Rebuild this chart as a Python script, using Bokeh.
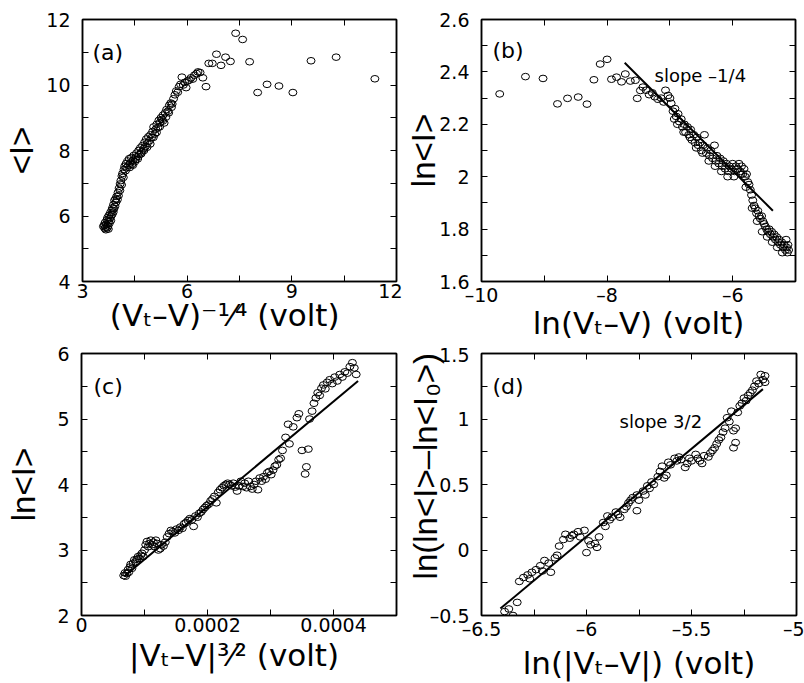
import math
from bokeh.plotting import figure
from bokeh.models import Range1d, LinearAxis, FixedTicker, CustomJSTickFormatter, Label
from bokeh.layouts import column, row
from bokeh.embed import file_html
from bokeh.resources import INLINE

# ---------------- data ----------------
# panel (a): <I> vs (Vt-V)^(-1/4)
a_x = [3.60, 3.62, 3.64, 3.65, 3.66, 3.67, 3.68, 3.70, 3.71, 3.72, 3.73, 3.74, 3.75, 3.76, 3.77, 3.78,
       3.80, 3.81, 3.82, 3.84, 3.85, 3.86, 3.88, 3.89, 3.90, 3.92, 3.93, 3.95, 3.96, 3.98, 4.00, 4.02,
       4.03, 4.05, 4.07, 4.08, 4.10, 4.12, 4.13, 4.15, 4.17, 4.19, 4.21, 4.23, 4.25, 4.27, 4.30, 4.32,
       4.34, 4.37, 4.40, 4.42, 4.45, 4.47, 4.50, 4.53, 4.55, 4.58, 4.61, 4.63, 4.66, 4.69, 4.72, 4.75,
       4.78, 4.80, 4.83, 4.86, 4.89, 4.92, 4.95, 4.98, 5.01, 5.04, 5.07, 5.10, 5.13, 5.16, 5.19, 5.22,
       5.25, 5.28, 5.31, 5.34, 5.37, 5.41, 5.45, 5.49, 5.53, 5.57, 5.61, 5.65, 5.69, 5.73, 5.77, 5.81,
       5.85, 5.89, 5.93, 5.97, 6.01, 6.06, 6.11, 6.16, 6.21, 6.27, 6.31, 6.37, 6.45, 6.54, 6.62, 6.72,
       6.84, 6.97, 7.10, 7.24, 7.39, 7.59, 7.79, 8.02, 8.29, 8.63, 9.03, 9.55, 10.27, 11.38,
       4.35, 4.44, 4.52, 4.60, 4.68, 4.76, 4.85, 4.94, 5.03, 5.12, 5.21, 5.30, 5.39, 5.47, 5.55]
a_y = [5.68, 5.72, 5.62, 5.80, 5.66, 5.58, 5.74, 5.88, 5.64, 5.95, 5.70, 5.60, 5.85, 6.02, 5.78, 5.92,
       6.10, 5.86, 6.00, 6.18, 6.05, 6.25, 6.12, 6.35, 6.22, 6.48, 6.30, 6.52, 6.42, 6.60, 6.50, 6.72,
       6.62, 6.85, 6.78, 6.98, 7.08, 6.95, 7.22, 7.30, 7.18, 7.42, 7.52, 7.38, 7.60, 7.48, 7.68, 7.55,
       7.75, 7.62, 7.78, 7.58, 7.70, 7.85, 7.66, 7.80, 7.92, 7.74, 8.00, 7.88, 8.08, 7.95, 8.15, 8.05,
       8.25, 8.12, 8.35, 8.22, 8.42, 8.30, 8.48, 8.40, 8.58, 8.72, 8.50, 8.65, 8.80, 8.70, 8.92, 8.85,
       9.00, 8.95, 9.08, 8.84, 9.15, 9.25, 9.20, 9.38, 9.45, 9.42, 9.58, 9.70, 9.82, 9.78, 9.95, 10.02,
       10.24, 10.00, 10.08, 9.92, 10.12, 10.15, 10.22, 10.18, 10.30, 10.35, 10.40, 10.38, 10.22, 9.95, 10.66, 10.66,
       10.94, 10.60, 10.85, 10.72, 11.58, 11.39, 10.71, 9.77, 10.02, 9.97, 9.77, 10.74, 10.85, 10.19,
       7.48, 7.55, 7.72, 7.82, 7.90, 8.00, 8.10, 8.20, 8.40, 8.55, 8.72, 8.90, 9.02, 9.15, 9.32]

# panel (b): ln<I> vs ln(Vt-V)
b_x = [-9.71, -9.30, -9.02, -8.79, -8.63, -8.46, -8.32, -8.21, -8.11, -8.00, -7.93, -7.85, -7.77, -7.71,
       -7.63, -7.55, -7.52, -7.47, -7.43, -7.38, -7.33, -7.28, -7.24, -7.19, -7.14, -7.10, -7.07, -7.03,
       -7.00, -6.98, -6.95, -6.92, -6.90, -6.87, -6.85, -6.82, -6.80, -6.77, -6.75, -6.72, -6.70, -6.67,
       -6.65, -6.62, -6.60, -6.57, -6.55, -6.52, -6.50, -6.47, -6.45, -6.42, -6.40, -6.37, -6.35, -6.32,
       -6.29, -6.27, -6.25, -6.22, -6.20, -6.17, -6.15, -6.12, -6.10, -6.07, -6.05, -6.02, -6.00, -5.97,
       -5.95, -5.92, -5.90, -5.88, -5.86, -5.84, -5.82, -5.80, -5.78, -5.76, -5.74, -5.72, -5.70, -5.68,
       -5.66, -5.64, -5.62, -5.60, -5.58, -5.56, -5.54, -5.52, -5.50, -5.48, -5.46, -5.44, -5.42, -5.40,
       -5.38, -5.36, -5.34, -5.32, -5.30, -5.28, -5.26, -5.24, -5.22, -5.20, -5.18, -5.16, -5.14, -5.12, -5.11,
       -6.93, -6.88, -6.78, -6.68, -6.58, -6.48, -6.38, -6.28, -6.18, -6.08, -5.98, -5.87, -5.79, -5.69,
       -5.61, -5.53, -5.45, -5.37, -5.29, -5.21, -5.15, -5.13]
b_y = [2.316, 2.382, 2.375, 2.278, 2.299, 2.304, 2.277, 2.370, 2.430, 2.448, 2.372, 2.380, 2.362, 2.392,
       2.365, 2.368, 2.299, 2.329, 2.342, 2.330, 2.313, 2.320, 2.305, 2.296, 2.300, 2.285, 2.330, 2.310,
       2.300, 2.280, 2.25, 2.26, 2.23, 2.24, 2.21, 2.22, 2.19, 2.20, 2.17, 2.19, 2.16, 2.18,
       2.14, 2.16, 2.13, 2.15, 2.12, 2.13, 2.10, 2.12, 2.16, 2.09, 2.11, 2.08, 2.10, 2.07,
       2.12, 2.06, 2.08, 2.05, 2.07, 2.04, 2.06, 2.03, 2.05, 2.02, 2.04, 2.03, 2.05, 2.02,
       2.04, 2.03, 2.05, 2.02, 2.04, 2.01, 2.03, 2.00, 2.01, 1.98, 1.97, 1.95, 1.93, 1.91,
       1.89, 1.88, 1.86, 1.87, 1.85, 1.84, 1.85, 1.83, 1.82, 1.81, 1.80, 1.79, 1.80, 1.78,
       1.79, 1.77, 1.78, 1.76, 1.77, 1.75, 1.76, 1.74, 1.75, 1.73, 1.74, 1.72, 1.73, 1.74, 1.72,
       2.22, 2.20, 2.17, 2.15, 2.11, 2.09, 2.06, 2.04, 2.02, 2.00, 2.00, 2.01, 1.96, 1.88,
       1.83, 1.79, 1.77, 1.75, 1.73, 1.71, 1.76, 1.71]
b_fit_x = [-7.72, -5.36]
b_fit_y = [2.435, 1.870]

# panel (c): ln<I> vs |Vt-V|^(3/2)
c_x = [0.000067, 0.000069, 0.000070, 0.000072, 0.000074, 0.000075, 0.000077, 0.000078, 0.000080, 0.000082,
       0.000084, 0.000086, 0.000088, 0.000090, 0.000092, 0.000094, 0.000096, 0.000098, 0.000100, 0.000102,
       0.000104, 0.000106, 0.000108, 0.000110, 0.000112, 0.000114, 0.000116, 0.000118, 0.000120, 0.000122,
       0.000125, 0.000127, 0.000130, 0.000133, 0.000136, 0.000139, 0.000142, 0.000145, 0.000148, 0.000151,
       0.000154, 0.000157, 0.000160, 0.000163, 0.000166, 0.000169, 0.000172, 0.000175, 0.000178, 0.000181,
       0.000184, 0.000187, 0.000190, 0.000193, 0.000196, 0.000199, 0.000202, 0.000205, 0.000208, 0.000211,
       0.000214, 0.000217, 0.000220, 0.000223, 0.000226, 0.000229, 0.000232, 0.000235, 0.000238, 0.000241,
       0.000244, 0.000247, 0.000250, 0.000253, 0.000256, 0.000259, 0.000262, 0.000265, 0.000268, 0.000271,
       0.000274, 0.000277, 0.000280, 0.000283, 0.000286, 0.000289, 0.000292, 0.000295, 0.000298,
       0.000301, 0.000304, 0.000307, 0.000310, 0.000313, 0.000316, 0.000319, 0.000324, 0.000328, 0.000330,
       0.000336, 0.000342, 0.000345, 0.000350, 0.000355, 0.000357, 0.000360, 0.000362, 0.000366, 0.000369,
       0.000372, 0.000375, 0.000378, 0.000381, 0.000384, 0.000387, 0.000390, 0.000394, 0.000398, 0.000402,
       0.000406, 0.000410, 0.000414, 0.000418, 0.000422, 0.000426, 0.000430, 0.000433, 0.000436]
c_y = [2.61, 2.65, 2.60, 2.64, 2.70, 2.66, 2.74, 2.78, 2.72, 2.80,
       2.85, 2.82, 2.86, 2.90, 2.87, 2.92, 2.95, 2.90, 3.00, 3.08,
       3.13, 3.05, 3.10, 3.15, 3.08, 3.12, 3.05, 3.15, 3.10, 3.00,
       3.02, 3.08, 3.06, 3.12, 3.20, 3.25, 3.30, 3.28, 3.26, 3.32,
       3.30, 3.35, 3.33, 3.40, 3.42, 3.45, 3.48, 3.46, 3.36, 3.52,
       3.50, 3.56, 3.58, 3.62, 3.65, 3.68, 3.70, 3.75, 3.78, 3.82,
       3.72, 3.88, 3.92, 3.95, 3.98, 4.00, 4.02, 4.00, 3.98, 4.02,
       3.96, 3.90, 3.98, 4.05, 3.97, 4.02, 3.95, 4.05, 3.97, 3.93,
       4.00, 4.05, 3.92, 4.10, 4.05, 4.12, 4.08, 4.18, 4.20,
       4.15, 4.22, 4.28, 4.30, 4.38, 4.40, 4.52, 4.72, 4.92, 4.62,
       4.88, 5.02, 5.08, 4.52, 4.16, 4.27, 4.54, 5.00, 5.12, 5.24,
       5.32, 5.40, 5.36, 5.47, 5.52, 5.46, 5.56, 5.60, 5.54, 5.64,
       5.58, 5.68, 5.64, 5.72, 5.70, 5.80, 5.86, 5.78, 5.68]
c_fit_x = [0.000068, 0.000439]
c_fit_y = [2.60, 5.58]

# panel (d): ln(ln<I>-ln<I0>) vs ln(|Vt-V|)
d_x = [-6.39, -6.37, -6.35, -6.33, -6.32, -6.30, -6.28, -6.27, -6.26, -6.24, -6.22, -6.21, -6.20, -6.18,
       -6.17, -6.15, -6.14, -6.13, -6.11, -6.10, -6.08, -6.07, -6.06, -6.04, -6.03, -6.01, -6.00, -5.99,
       -5.98, -5.96, -5.95, -5.94, -5.92, -5.91, -5.90, -5.89, -5.88, -5.86, -5.85, -5.84, -5.82, -5.81,
       -5.80, -5.79, -5.78, -5.76, -5.76, -5.75, -5.73, -5.72, -5.71, -5.70, -5.69, -5.68, -5.66, -5.65,
       -5.64, -5.63, -5.62, -5.61, -5.60, -5.58, -5.57, -5.56, -5.55, -5.53, -5.52, -5.51, -5.50, -5.48,
       -5.47, -5.46, -5.45, -5.44, -5.42, -5.41, -5.40, -5.39, -5.38, -5.37, -5.36, -5.35, -5.34, -5.33,
       -5.32, -5.31, -5.30, -5.30, -5.29, -5.29, -5.28, -5.27, -5.26, -5.25, -5.24, -5.23, -5.22, -5.21,
       -5.20, -5.19, -5.18, -5.17, -5.16, -5.15, -5.15]
d_y = [-0.47, -0.45, -0.50, -0.40, -0.24, -0.21, -0.19, -0.22, -0.17, -0.15, -0.12, -0.16, -0.08, -0.10,
       -0.17, -0.06, -0.04, 0.03, 0.08, 0.12, 0.09, 0.11, 0.12, 0.14, 0.10, 0.15, -0.02, 0.07,
       0.04, 0.05, 0.02, 0.10, 0.21, 0.18, 0.26, 0.23, 0.25, 0.29, 0.27, 0.25, 0.31, 0.33,
       0.36, 0.38, 0.40, 0.30, 0.42, 0.38, 0.45, 0.42, 0.49, 0.47, 0.52, 0.50, 0.56, 0.60,
       0.64, 0.55, 0.57, 0.67, 0.65, 0.70, 0.68, 0.71, 0.69, 0.63, 0.66, 0.70, 0.68, 0.73,
       0.70, 0.68, 0.66, 0.72, 0.71, 0.74, 0.76, 0.78, 0.81, 0.84, 0.86, 0.90, 0.93, 1.01,
       0.98, 1.06, 0.91, 0.78, 0.82, 0.93, 1.05, 1.10, 1.12, 1.16, 1.14, 1.18, 1.20, 1.22,
       1.25, 1.29, 1.27, 1.34, 1.30, 1.28, 1.33]
d_fit_x = [-6.41, -5.16]
d_fit_y = [-0.447, 1.228]

# ticks, tick labels and axis titles
a_xticks, a_xlabels, a_xminor = [3, 6, 9, 12], ["3", "6", "9", "12"], [4.5, 7.5, 10.5]
a_yticks, a_ylabels, a_yminor = [4, 6, 8, 10, 12], ["4", "6", "8", "10", "12"], [5, 7, 9, 11]
b_xticks, b_xlabels, b_xminor = [-10, -8, -6], ["\u201310", "\u20138", "\u20136"], [-9, -7, -5]
b_yticks, b_ylabels, b_yminor = [1.6, 1.8, 2.0, 2.2, 2.4, 2.6], ["1.6", "1.8", "2", "2.2", "2.4", "2.6"], [1.7, 1.9, 2.1, 2.3, 2.5]
c_xticks, c_xlabels, c_xminor = [0, 0.0002, 0.0004], ["0", "0.0002", "0.0004"], [0.0001, 0.0003, 0.0005]
c_yticks, c_ylabels, c_yminor = [2, 3, 4, 5, 6], ["2", "3", "4", "5", "6"], [2.5, 3.5, 4.5, 5.5]
d_xticks, d_xlabels, d_xminor = [-6.5, -6, -5.5, -5], ["\u20136.5", "\u20136", "\u20135.5", "\u20135"], [-6.25, -5.75, -5.25]
d_yticks, d_ylabels, d_yminor = [-0.5, 0, 0.5, 1, 1.5], ["\u20130.5", "0", "0.5", "1", "1.5"], [-0.25, 0.25, 0.75, 1.25]

a_xtitle, a_ytitle = "(V\u209c\u2013V)\u207b\u00b9\u2044\u2074 (volt)", "<I>"
b_xtitle, b_ytitle = "ln(V\u209c\u2013V) (volt)", "ln<I>"
c_xtitle, c_ytitle = "|V\u209c\u2013V|\u00b3\u2044\u00b2 (volt)", "ln<I>"
d_xtitle, d_ytitle = "ln(|V\u209c\u2013V|) (volt)", "ln(ln<I>\u2013ln<I\u2080>)"

FONT_H = "DejaVu Sans"
FONT_V = "Liberation Sans"
NB = "\u00a0"


def tick_fmt(tv, tl):
    return CustomJSTickFormatter(args=dict(tv=tv, tl=tl), code="""
        for (let i = 0; i < tv.length; i++) {
            if (Math.abs(tick - tv[i]) < 1e-9) { return tl[i]; }
        }
        return "";
    """)


def style_axis(ax, tv, minor, tl, show):
    ax.ticker = FixedTicker(ticks=tv, minor_ticks=minor)
    ax.major_tick_in = 6
    ax.major_tick_out = 0
    ax.minor_tick_in = 6
    ax.minor_tick_out = 0
    ax.major_tick_line_color = "black"
    ax.minor_tick_line_color = "black"
    ax.major_tick_line_width = 1
    ax.minor_tick_line_width = 1
    ax.axis_line_color = "black"
    ax.axis_line_width = 1.5
    if show:
        ax.formatter = tick_fmt(tv, tl)
        ax.major_label_text_font = FONT_H
        ax.major_label_text_font_size = "19px"
        ax.major_label_text_color = "black"
    else:
        ax.formatter = tick_fmt([], [])
        ax.major_label_text_font_size = "0px"
        ax.major_label_standoff = 0


def make_panel(w, h, xr, yr, bl, br, bt, bb, xt, xl, xm, yt, yl, ym,
               xtitle, ytitle, xstand, ystand):
    p = figure(width=w, height=h, x_range=Range1d(*xr), y_range=Range1d(*yr),
               output_backend="svg", toolbar_location=None,
               min_border_left=bl, min_border_right=br, min_border_top=bt, min_border_bottom=bb)
    p.background_fill_color = "white"
    p.border_fill_color = "white"
    p.outline_line_color = "black"
    p.outline_line_width = 1.5
    p.xgrid.visible = False
    p.ygrid.visible = False
    xa, ya = p.xaxis[0], p.yaxis[0]
    style_axis(xa, xt, xm, xl, True)
    xa.major_label_standoff = 2
    style_axis(ya, yt, ym, yl, True)
    ya.major_label_standoff = 12
    xa.axis_label = xtitle
    xa.axis_label_text_font = FONT_H
    xa.axis_label_text_font_size = "31px"
    xa.axis_label_text_font_style = "normal"
    xa.axis_label_text_color = "black"
    xa.axis_label_standoff = xstand
    ya.axis_label = ytitle
    ya.axis_label_text_font = FONT_V
    ya.axis_label_text_font_size = "33px"
    ya.axis_label_text_font_style = "normal"
    ya.axis_label_text_color = "black"
    ya.axis_label_standoff = ystand
    top = LinearAxis()
    style_axis(top, xt, xm, xl, False)
    p.add_layout(top, "above")
    right = LinearAxis()
    style_axis(right, yt, ym, yl, False)
    p.add_layout(right, "right")
    return p


def circles(p, xs, ys):
    p.ellipse(x=xs, y=ys, width=8, height=6.6, width_units="screen", height_units="screen",
              fill_color=None, line_color="black", line_width=1)


def panel_tag(p, text, x, y, size=22):
    p.add_layout(Label(x=x, y=y, x_units="screen", y_units="screen", text=text,
                       text_font=FONT_H, text_font_size=f"{size}px", text_color="black",
                       text_align="left", text_baseline="alphabetic"))


# ---------------- panel (a) ----------------
pa = make_panel(402, 343, (3, 12), (4, 12), 82, 6, 19, 60,
                a_xticks, a_xlabels, a_xminor, a_yticks, a_ylabels, a_yminor,
                a_xtitle + NB * 3, a_ytitle, -4, 3)
circles(pa, a_x, a_y)
panel_tag(pa, "(a)", 10, 229)

# ---------------- panel (b) ----------------
pb = make_panel(402, 343, (-10, -5), (1.6, 2.6), 78, 9, 19, 60,
                b_xticks, b_xlabels, b_xminor, b_yticks, b_ylabels, b_yminor,
                b_xtitle, b_ytitle, -4, -6)
circles(pb, b_x, b_y)
pb.line(b_fit_x, b_fit_y, line_color="black", line_width=2)
panel_tag(pb, "(b)", 11, 231)
panel_tag(pb, "slope \u20131/4", 173, 206, 18)

# ---------------- panel (c) ----------------
pc = make_panel(402, 340, (0, 0.0005), (2, 6), 81, 6, 10, 68,
                c_xticks, c_xlabels, c_xminor, c_yticks, c_ylabels, c_yminor,
                c_xtitle + NB, c_ytitle, 2, 12)
circles(pc, c_x, c_y)
pc.line(c_fit_x, c_fit_y, line_color="black", line_width=2)
panel_tag(pc, "(c)", 12, 229)

# ---------------- panel (d) ----------------
pd = make_panel(402, 340, (-6.5, -5), (-0.5, 1.5), 79, 8, 10, 68,
                d_xticks, d_xlabels, d_xminor, d_yticks, d_ylabels, d_yminor,
                d_xtitle, NB * 4 + d_ytitle, 2, -17)
circles(pd, d_x, d_y)
pd.line(d_fit_x, d_fit_y, line_color="black", line_width=2)
panel_tag(pd, "(d)", 11, 229)
panel_tag(pd, "slope 3/2", 138, 194, 18)

layout = column(row(pa, pb), row(pc, pd))
open("out.html", "w").write(file_html(layout, INLINE))
